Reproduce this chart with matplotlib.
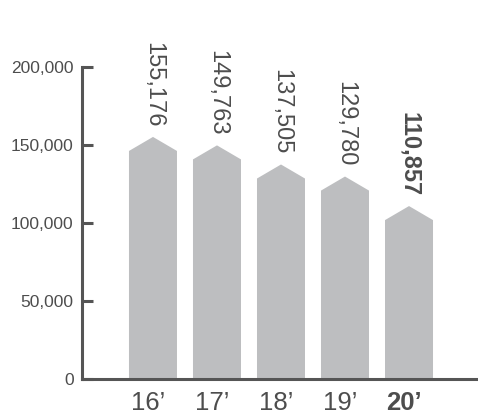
import numpy as np
import matplotlib
matplotlib.use("Agg")
import matplotlib.pyplot as plt
from matplotlib.patches import Polygon
from matplotlib.transforms import ScaledTranslation

# -------------------------
# dados
# -------------------------
anos = ["16\u2019", "17\u2019", "18\u2019", "19\u2019", "20\u2019"]
valores = [155176, 149763, 137505, 129780, 110857]
rotulos = ["155,176", "149,763", "137,505", "129,780", "110,857"]
destaque = [False, False, False, False, True]

plt.rcParams["font.family"] = ["Liberation Sans", "DejaVu Sans"]

cor_barra = "#bdbec0"
cor_texto = "#4d4d4d"
cor_eixo = "#555555"

fig = plt.figure(figsize=(4.78, 4.2), dpi=100)
ax = fig.add_axes([82 / 478, 1 - 379 / 420, 1 - 82 / 478, (379 - 67) / 420])

largura = 0.75
ponta = 9000  # altura do "telhado" da barra

for i, v in enumerate(valores):
    x0 = i - largura / 2
    x1 = i + largura / 2
    pts = [(x0, 0), (x0, v - ponta), (i, v), (x1, v - ponta), (x1, 0)]
    ax.add_patch(Polygon(pts, closed=True, facecolor=cor_barra, edgecolor="none"))

    ax.annotate(rotulos[i], xy=(i, v), xytext=(0, 7), textcoords="offset points",
                rotation=-90, ha="center", va="bottom", fontsize=17,
                color=cor_texto, fontweight="bold" if destaque[i] else "normal",
                annotation_clip=False)

ax.set_xlim(-1.109, 5.078)
ax.set_ylim(0, 200000)

ax.set_yticks([0, 50000, 100000, 150000, 200000])
ax.set_yticklabels(["0", "50,000", "100,000", "150,000", "200,000"])
ax.tick_params(axis="y", direction="in", length=8, width=2.2, colors=cor_eixo,
               labelsize=12.5, labelcolor=cor_texto, pad=6)

ax.set_xticks(range(len(anos)))
ax.set_xticklabels(anos)
ax.tick_params(axis="x", length=0, labelsize=18.5, labelcolor=cor_texto, pad=9)
desloc = ScaledTranslation(-5 / 100, 0, fig.dpi_scale_trans)
for lbl, b in zip(ax.get_xticklabels(), destaque):
    lbl.set_transform(lbl.get_transform() + desloc)
    if b:
        lbl.set_fontweight("bold")

for s in ["top", "right"]:
    ax.spines[s].set_visible(False)
for s in ["left", "bottom"]:
    ax.spines[s].set_linewidth(2.2)
    ax.spines[s].set_color(cor_eixo)

plt.savefig("out.png", dpi=100)
